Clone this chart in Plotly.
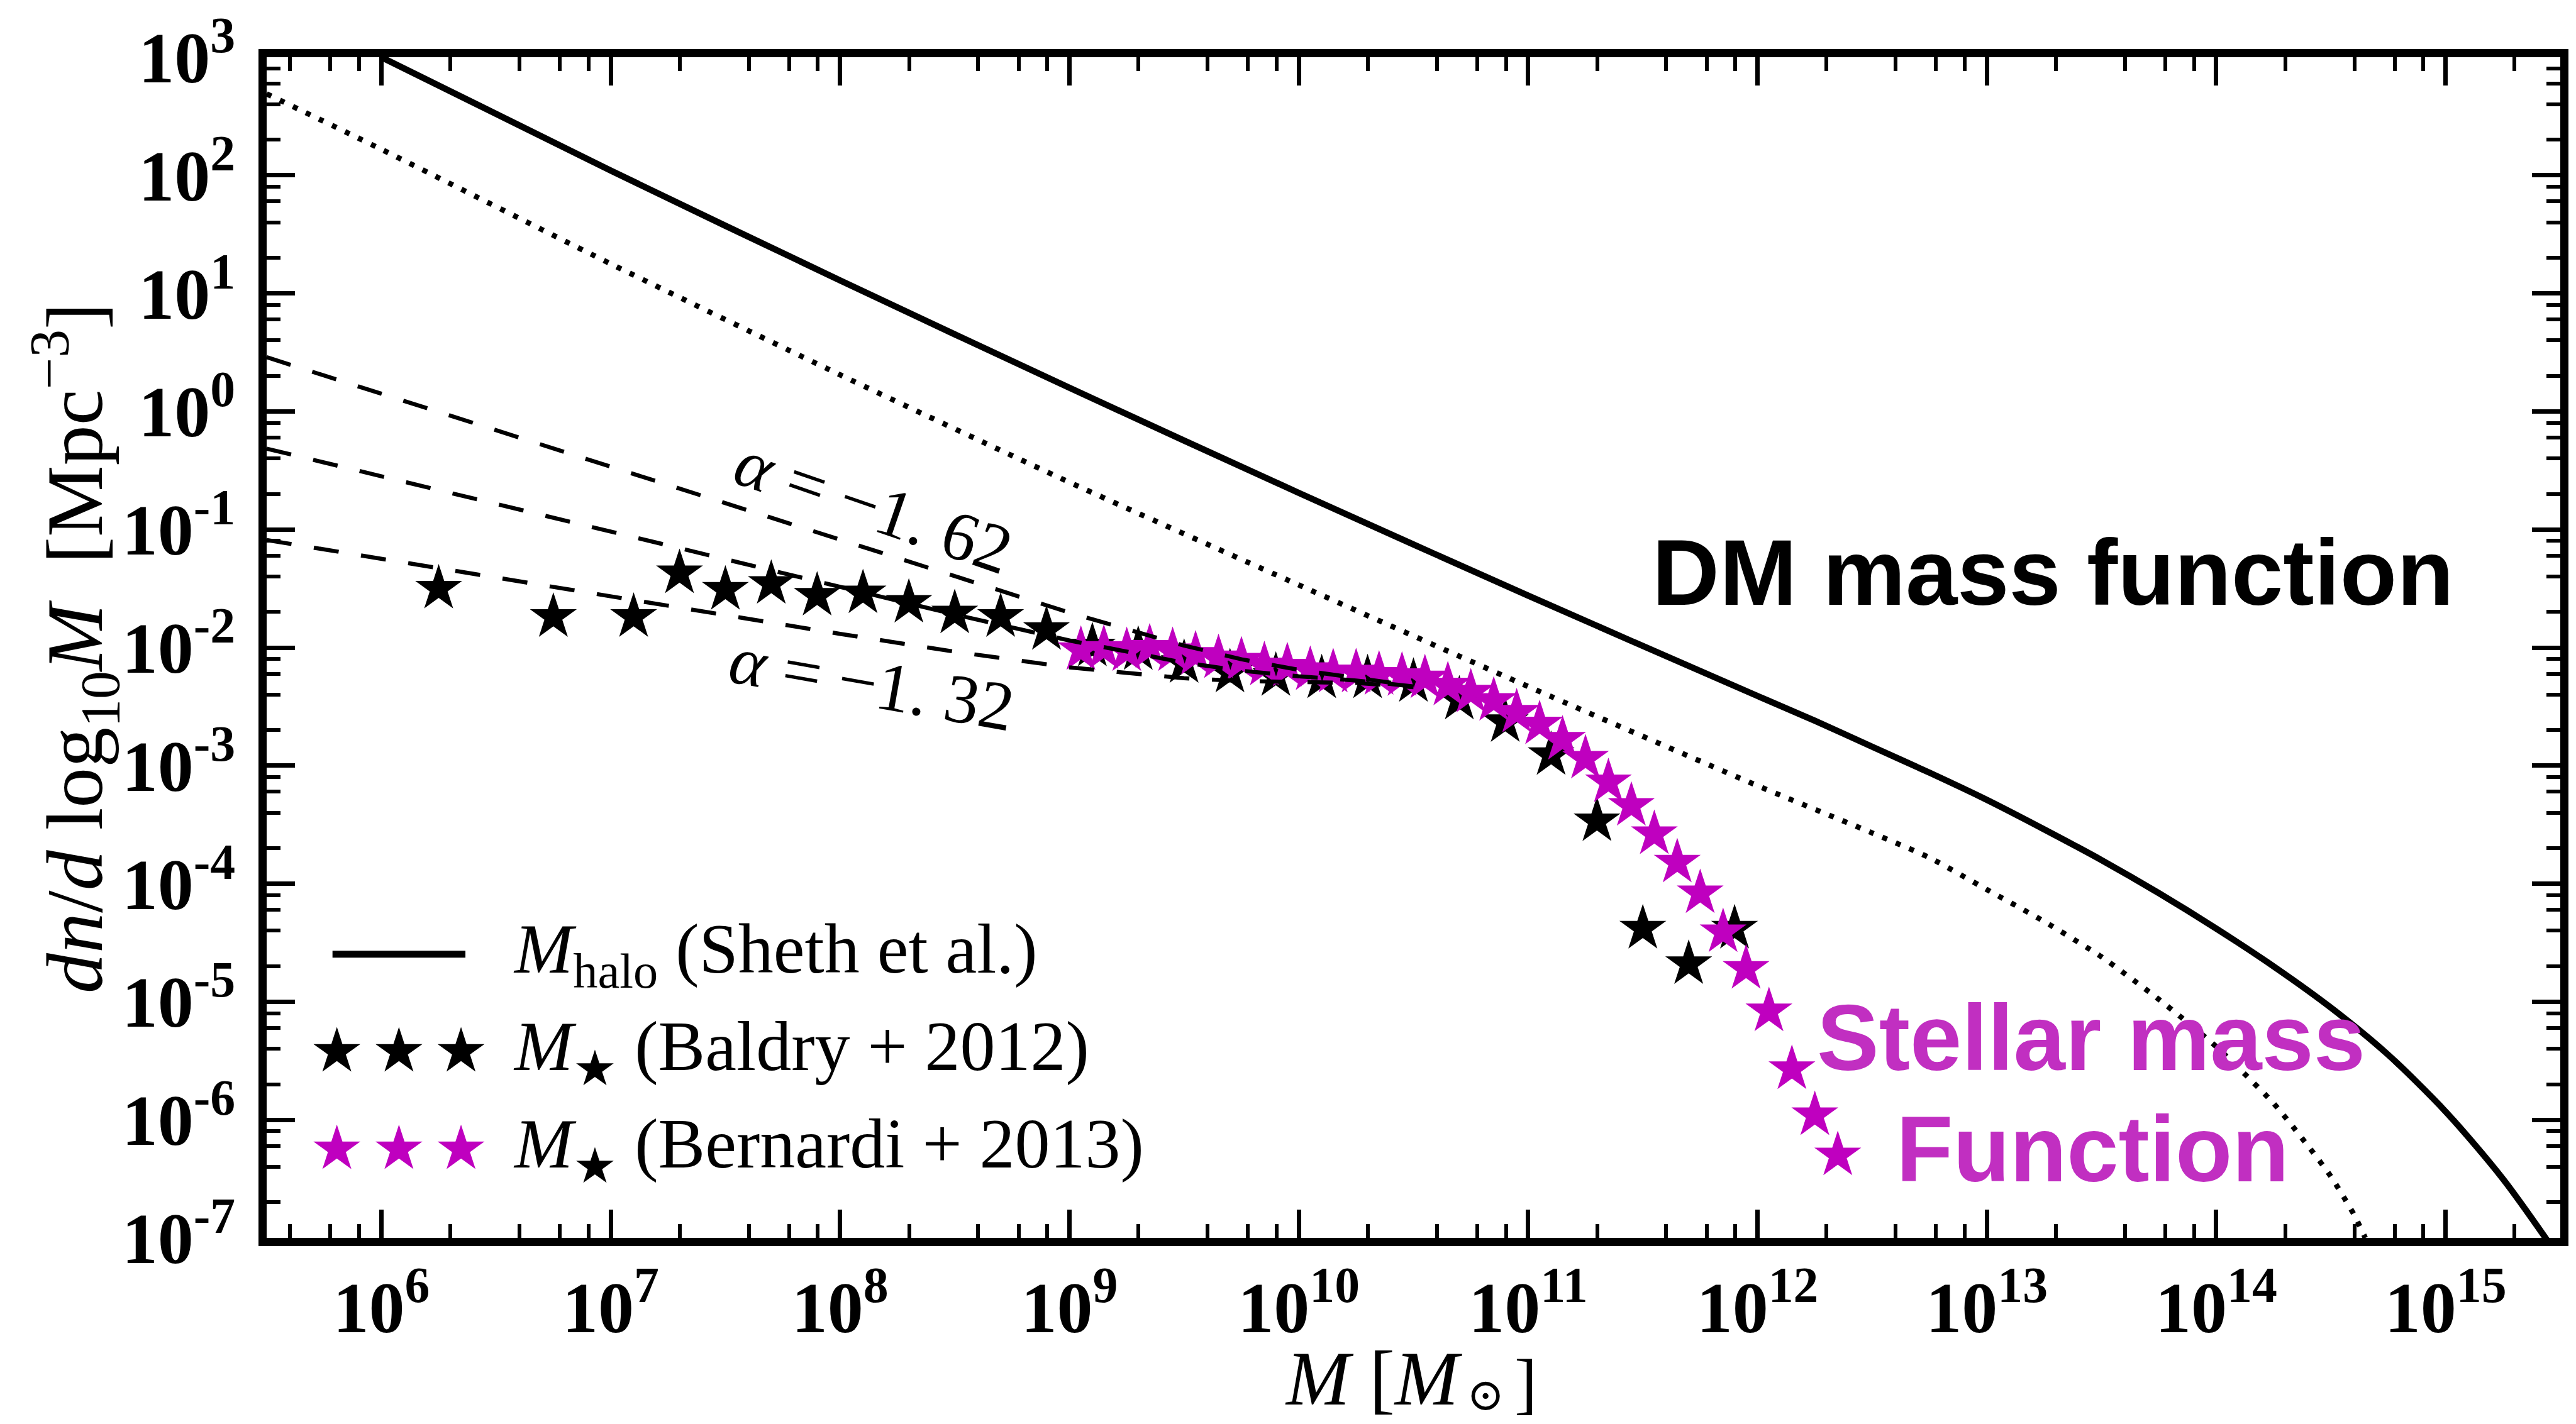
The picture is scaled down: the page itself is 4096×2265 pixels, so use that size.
import numpy as np
import plotly.graph_objects as go

# ---------------- data (log10 values) ----------------
# Baldry+2012 stellar mass function (black stars)
baldry_logm = [6.25, 6.75, 7.10, 7.30, 7.50, 7.70, 7.90, 8.10, 8.30, 8.50, 8.70, 8.90,
               9.10, 9.30, 9.50, 9.70, 9.90, 10.10, 10.30, 10.50, 10.70, 10.90, 11.10,
               11.30, 11.50, 11.70, 11.90]
baldry_logphi = [-1.50, -1.74, -1.74, -1.37, -1.51, -1.46, -1.56, -1.54, -1.62, -1.71, -1.74, -1.85,
                 -1.99, -2.02, -2.13, -2.21, -2.24, -2.26, -2.26, -2.29, -2.44, -2.63, -2.91,
                 -3.47, -4.38, -4.68, -4.38]

# Bernardi+2013 stellar mass function (magenta stars)
bernardi_logm = [9.05, 9.15, 9.25, 9.35, 9.45, 9.55, 9.65, 9.75, 9.85, 9.95, 10.05, 10.15,
                 10.25, 10.35, 10.45, 10.55, 10.65, 10.75, 10.85, 10.95, 11.05, 11.15, 11.25,
                 11.35, 11.45, 11.55, 11.65, 11.75, 11.85, 11.95, 12.05, 12.15, 12.25, 12.35]
bernardi_logphi = [-2.02, -2.01, -2.03, -2.00, -2.03, -2.06, -2.09, -2.11, -2.15, -2.16, -2.19, -2.21,
                   -2.21, -2.23, -2.24, -2.26, -2.32, -2.38, -2.45, -2.55, -2.65, -2.78, -2.94,
                   -3.14, -3.34, -3.58, -3.82, -4.08, -4.41, -4.72, -5.08, -5.57, -5.96, -6.30]

# Halo mass function (Sheth et al.), solid
halo_logm = [6.0, 7.0, 8.0, 9.0, 10.0, 11.0, 12.0, 12.25, 12.5, 12.75, 13.0, 13.25, 13.5, 13.75,
             14.0, 14.25, 14.5, 14.75, 15.0, 15.25, 15.5]
halo_logphi = [3.00, 2.04, 1.11, 0.20, -0.69, -1.56, -2.41, -2.62, -2.84, -3.06, -3.29, -3.54, -3.80, -4.08,
               -4.38, -4.70, -5.05, -5.45, -5.93, -6.50, -7.18]

# dotted curve
dot_logm = [5.5, 6.0, 7.0, 8.0, 9.0, 10.0, 11.0, 12.0, 12.5, 12.75, 13.0, 13.25, 13.5, 13.75,
            14.0, 14.25, 14.4, 14.5, 14.6, 14.65]
dot_logphi = [2.69, 2.22, 1.25, 0.31, -0.60, -1.47, -2.33, -3.17, -3.57, -3.78, -4.05, -4.32, -4.62, -4.98,
              -5.38, -5.86, -6.22, -6.48, -6.80, -7.00]

# dashed low-mass slopes (alpha = -1.62, -1.47, -1.32)
dash_logm = [5.5, 6.0, 6.5, 7.0, 7.5, 8.0, 8.5, 9.0, 9.5, 9.75, 10.0, 10.25, 10.5]
dash_a162 = [0.459, 0.149, -0.161, -0.471, -0.781, -1.091, -1.400, -1.704, -1.983, -2.099, -2.189, -2.255, -2.324]
dash_a147 = [-0.315, -0.550, -0.785, -1.020, -1.255, -1.489, -1.720, -1.940, -2.128, -2.196, -2.243, -2.279, -2.329]
dash_a132 = [-1.089, -1.249, -1.409, -1.568, -1.727, -1.884, -2.035, -2.168, -2.260, -2.283, -2.292, -2.300, -2.335]

x_decades = list(range(6, 16))
y_decades = list(range(-7, 4))

# ---------------- figure ----------------
W, H = 4096, 2265
ML, MR, MT, MB = 424, 14, 80, 296
PW, PH = W - ML - MR, H - MT - MB

def p(v):
    return np.power(10.0, np.array(v, dtype=float))

def px(xpix):
    return (xpix - ML) / PW

def py(ypix):
    return (H - MB - ypix) / PH

MAG = '#BF00BF'
STAR = 56

fig = go.Figure()

fig.add_trace(go.Scatter(x=p(baldry_logm), y=p(baldry_logphi), mode='markers',
                         marker=dict(symbol='star', size=STAR, color='black', line=dict(width=0)),
                         showlegend=False, cliponaxis=True))
fig.add_trace(go.Scatter(x=p(bernardi_logm), y=p(bernardi_logphi), mode='markers',
                         marker=dict(symbol='star', size=STAR, color=MAG, line=dict(width=0)),
                         showlegend=False, cliponaxis=True))
for arr in (dash_a162, dash_a147, dash_a132):
    fig.add_trace(go.Scatter(x=p(dash_logm), y=p(arr), mode='lines',
                             line=dict(color='black', width=6.5, dash='40px,36px'),
                             showlegend=False))
fig.add_trace(go.Scatter(x=p(halo_logm), y=p(halo_logphi), mode='lines',
                         line=dict(color='black', width=10, shape='spline', smoothing=0.8),
                         showlegend=False))
fig.add_trace(go.Scatter(x=p(dot_logm), y=p(dot_logphi), mode='lines',
                         line=dict(color='black', width=8.5, dash='8px,15px', shape='spline', smoothing=0.6),
                         showlegend=False))

# ---- manual legend on an overlay axis spanning the plot area ----
fig.add_trace(go.Scatter(x=[px(529), px(741)], y=[py(1515), py(1515)], mode='lines',
                         line=dict(color='black', width=11), xaxis='x2', yaxis='y2',
                         showlegend=False))
fig.add_trace(go.Scatter(x=[px(536), px(635), px(734)], y=[py(1671)] * 3, mode='markers',
                         marker=dict(symbol='star', size=STAR, color='black', line=dict(width=0)),
                         xaxis='x2', yaxis='y2', showlegend=False))
fig.add_trace(go.Scatter(x=[px(536), px(635), px(734)], y=[py(1827)] * 3, mode='markers',
                         marker=dict(symbol='star', size=STAR, color=MAG, line=dict(width=0)),
                         xaxis='x2', yaxis='y2', showlegend=False))

SERIF = 'Liberation Serif'
SANS = 'Liberation Sans'

tick_font = dict(family=SERIF, size=114, color='black', weight='bold')
minor_x = [m * 10.0 ** e for e in range(5, 16) for m in (2, 4, 6, 8)]
minor_y = [m * 10.0 ** e for e in range(-7, 3) for m in (2, 4, 6, 8)]

axis_common = dict(showline=True, linewidth=13, linecolor='black', mirror='allticks',
                   ticks='inside', ticklen=45, tickwidth=7, tickcolor='black',
                   showgrid=False, zeroline=False, tickfont=tick_font)

fig.update_layout(
    width=W, height=H,
    margin=dict(l=ML, r=MR, t=MT, b=MB, pad=0),
    paper_bgcolor='white', plot_bgcolor='white',
    xaxis=dict(type='log', range=[5.5, 15.5], tickmode='array',
               tickvals=[10.0 ** d for d in x_decades],
               ticktext=['10<sup>%d</sup>' % d for d in x_decades],
               ticklabelstandoff=0,
               minor=dict(tickmode='array', tickvals=minor_x, ticks='inside', ticklen=22,
                          tickwidth=6, tickcolor='black', showgrid=False),
               **axis_common),
    yaxis=dict(type='log', range=[-7, 3], tickmode='array',
               tickvals=[10.0 ** d for d in y_decades],
               ticktext=['10<sup>%d</sup>' % d for d in y_decades],
               ticklabelstandoff=14,
               minor=dict(tickmode='array', tickvals=minor_y, ticks='inside', ticklen=22,
                          tickwidth=6, tickcolor='black', showgrid=False),
               **axis_common),
    xaxis2=dict(overlaying='x', range=[0, 1], visible=False, fixedrange=True),
    yaxis2=dict(overlaying='y', range=[0, 1], visible=False, fixedrange=True),
    showlegend=False,
)

ann = []
# x axis title, set in three pieces so the subscript sits low like the original
bottom = py(2264)
ann.append(dict(text='<i>M</i> [<i>M</i>', x=px(2046), y=bottom, xref='paper', yref='paper',
                showarrow=False, xanchor='left', yanchor='bottom',
                font=dict(family=SERIF, size=122, color='black')))
ann.append(dict(text='⊙', x=px(2368), y=bottom, xref='paper', yref='paper',
                showarrow=False, xanchor='center', yanchor='bottom',
                font=dict(family='DejaVu Serif', size=72, color='black')))
ann.append(dict(text=']', x=px(2432), y=bottom, xref='paper', yref='paper',
                showarrow=False, xanchor='center', yanchor='bottom',
                font=dict(family=SERIF, size=108, color='black')))
ann.append(dict(text='<i>dn</i>/<i>d</i> log<sub>10</sub><i>M</i>  [Mpc<sup>−3</sup>]',
                x=px(117), y=0.5, xref='paper', yref='paper', textangle=-90,
                showarrow=False, xanchor='center', yanchor='middle',
                font=dict(family=SERIF, size=128, color='black')))
# alpha labels
ann.append(dict(text='<i>α</i> = −1. 62', x=px(1392), y=py(798), xref='paper', yref='paper',
                textangle=19, showarrow=False, xanchor='center', yanchor='middle',
                font=dict(family=SERIF, size=110, color='black')))
ann.append(dict(text='<i>α</i> = −1. 32', x=px(1389), y=py(1082), xref='paper', yref='paper',
                textangle=10, showarrow=False, xanchor='center', yanchor='middle',
                font=dict(family=SERIF, size=110, color='black')))
# big labels
ann.append(dict(text='<b>DM mass function</b>', x=px(3273), y=py(904),
                xref='paper', yref='paper', showarrow=False, xanchor='center', yanchor='middle',
                font=dict(family=SANS, size=148, color='black')))
ann.append(dict(text='<b>Stellar mass</b>', x=px(3334), y=py(1649),
                xref='paper', yref='paper', showarrow=False, xanchor='center', yanchor='middle',
                font=dict(family=SANS, size=148, color='#C12FC1')))
ann.append(dict(text='<b>Function</b>', x=px(3336), y=py(1827),
                xref='paper', yref='paper', showarrow=False, xanchor='center', yanchor='middle',
                font=dict(family=SANS, size=148, color='#C12FC1')))
# legend texts
leg_font = dict(family=SERIF, size=112, color='black')
leg_x = px(815)
ann.append(dict(text='<i>M</i><sub>halo</sub> (Sheth et al.)', x=leg_x, y=py(1515), xref='paper', yref='paper',
                showarrow=False, xanchor='left', yanchor='middle', font=leg_font))
ann.append(dict(text='<i>M</i><sub>★</sub> (Baldry + 2012)', x=leg_x, y=py(1671), xref='paper', yref='paper',
                showarrow=False, xanchor='left', yanchor='middle', font=leg_font))
ann.append(dict(text='<i>M</i><sub>★</sub> (Bernardi + 2013)', x=leg_x, y=py(1827), xref='paper', yref='paper',
                showarrow=False, xanchor='left', yanchor='middle', font=leg_font))
fig.update_layout(annotations=ann)

fig.write_html('out.html')
